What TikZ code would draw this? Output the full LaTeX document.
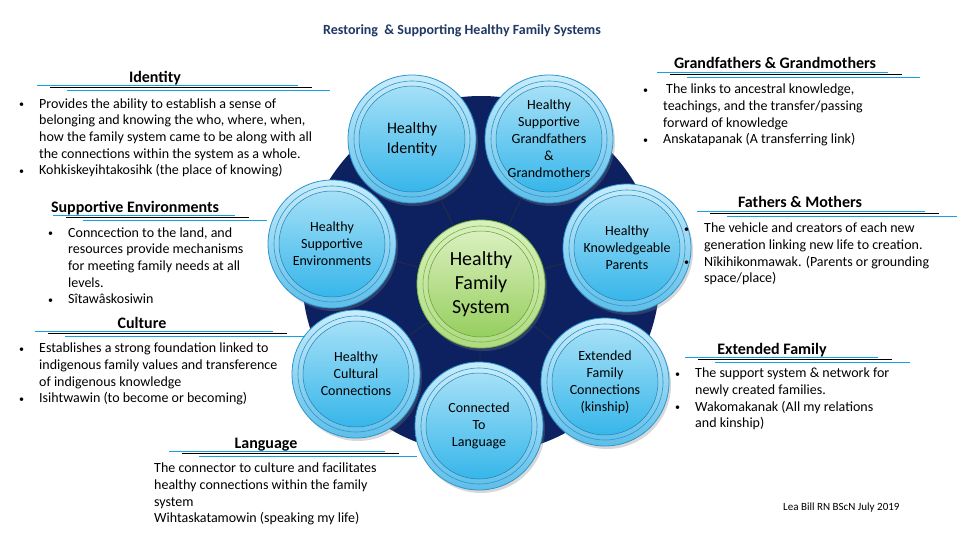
\documentclass[tikz,border=0pt]{standalone}
\usepackage{fontspec}
\setmainfont{Carlito}
\usetikzlibrary{shadows}
\definecolor{navy}{RGB}{13,33,96}
\definecolor{cline}{RGB}{20,160,225}
\definecolor{ttl}{RGB}{31,56,100}
\definecolor{satout}{RGB}{95,190,232}
\definecolor{satedge}{RGB}{40,150,210}
\definecolor{satin1}{RGB}{165,224,247}
\definecolor{satin2}{RGB}{55,182,234}
\definecolor{grout}{RGB}{175,218,130}
\definecolor{gredge}{RGB}{115,185,65}
\definecolor{grin1}{RGB}{218,240,190}
\definecolor{grin2}{RGB}{150,206,95}
\newcommand\mybul{\llap{\raisebox{0.5pt}{\fontsize{10}{10}\selectfont\textbullet}\hskip 15pt}}
\newcommand\hdline[3]{%
  \draw[cline, line width=0.9pt] ({#1},{#3}) -- ({#2},{#3});
  \draw[black, line width=0.6pt] ({#1+13},{#3+2.5}) -- ({#2+14},{#3+2.5});
  \draw[cline, line width=0.9pt] ({#1+30},{#3+5}) -- ({#2+32},{#3+5});}
\begin{document}
\begin{tikzpicture}[x=1pt,y=-1pt,
  sat/.style={circle, minimum size=128pt, inner sep=0pt, align=center,
    draw=satedge, line width=0.8pt, top color=satin1!60!white, bottom color=satout,
    font=\fontsize{14}{17}\selectfont,
    drop shadow={opacity=0.3, shadow xshift=2pt, shadow yshift=-3pt},
    path picture={
      \draw[satedge, line width=0.6pt] (path picture bounding box.center) circle (58pt);
      \shade[top color=satin1, bottom color=satin2] (path picture bounding box.center) circle (53pt);
      \draw[satedge!85!black, line width=0.5pt] (path picture bounding box.center) circle (53pt);
    }},
  ctrc/.style={circle, minimum size=128pt, inner sep=0pt, align=center,
    draw=gredge, line width=0.8pt, top color=grin1, bottom color=grout,
    font=\fontsize{20}{24}\selectfont,
    drop shadow={opacity=0.3, shadow xshift=2pt, shadow yshift=-3pt},
    path picture={
      \draw[gredge, line width=0.6pt] (path picture bounding box.center) circle (58pt);
      \shade[top color=grin1, bottom color=grin2] (path picture bounding box.center) circle (53pt);
      \draw[gredge!85!black, line width=0.5pt] (path picture bounding box.center) circle (53pt);
    }},
  spoke/.style={black!80, line width=0.5pt},
  tb/.style={anchor=north west, inner sep=0pt, align=left, font=\fontsize{14}{16.6}\selectfont},
  hd/.style={anchor=base, inner sep=0pt, font=\bfseries\fontsize{16}{19}\selectfont}
]
\useasboundingbox (0,0) rectangle (960,540);
\fill[white] (0,0) rectangle (960,540);

% title
\node[font=\bfseries\fontsize{14}{16}\selectfont, text=ttl] (title) at (462,31) {Restoring\ \ \& Supporting Healthy Family Systems};

% big disc
\node[circle, fill=navy, minimum size=358pt, inner sep=0pt] (disc) at (481,275) {};

% circles
\node[ctrc] (ctr) at (481,284) {Healthy\\Family\\System};
\node[sat, font=\fontsize{16}{19.5}\selectfont] (sid) at (412,139) {Healthy\\Identity};
\node[sat] (sgf) at (549,139) {Healthy\\Supportive\\Grandfathers\\\&\\Grandmothers};
\node[sat] (spa) at (627,248) {Healthy\\Knowledgeable\\Parents};
\node[sat] (sex) at (605,382) {Extended\\Family\\Connections\\(kinship)};
\node[sat] (sla) at (479,426) {Connected\\To\\Language};
\node[sat] (scu) at (356,374) {Healthy\\Cultural\\Connections};
\node[sat] (sse) at (332,244) {Healthy\\Supportive\\Environments};

\foreach \s in {sid,sgf,spa,sex,sla,scu,sse} \draw[spoke] (ctr) -- (\s);

% Identity
\node[hd] (hid) at (155,83) {Identity};
\hdline{37}{298}{85}
\node[tb] (tid) at (39,96.5) {\mybul\strut Provides the ability to establish a sense of\\
belonging and knowing the who, where, when,\\
how the family system came to be along with all\\
the connections within the system as a whole.\\
\mybul Kohkiskeyihtakosihk (the place of knowing)};

% Supportive Environments
\node[hd] (hse) at (135,212) {Supportive Environments};
\hdline{53}{235}{215}
\node[tb] (tse) at (68,225.5) {\mybul\strut Conncection to the land, and\\
resources provide mechanisms\\
for meeting family needs at all\\
levels.\\
\mybul Sîtawâskosiwin};

% Culture
\node[hd] (hcu) at (142,328) {Culture};
\hdline{35}{273}{331}
\node[tb] (tcu) at (39,341) {\mybul\strut Establishes a strong foundation linked to\\
indigenous family values and transference\\
of indigenous knowledge\\
\mybul Isihtwawin (to become or becoming)};

% Language
\node[hd] (hla) at (266,448) {Language};
\hdline{169}{385}{451}
\node[tb] (tla) at (154,461) {\strut The connector to culture and facilitates\\
healthy connections within the family\\
system\\
Wihtaskatamowin (speaking my life)};

% Grandfathers
\node[hd] (hgf) at (775,69) {Grandfathers \& Grandmothers};
\hdline{657}{888}{72}
\node[tb] (tgf) at (663,82) {\mybul\strut\hskip3pt The links to ancestral knowledge,\\
teachings, and the transfer/passing\\
forward of knowledge\\
\mybul Anskatapanak (A transferring link)};

% Fathers
\node[hd] (hfa) at (800,207) {Fathers \& Mothers};
\hdline{697}{925}{211}
\node[tb] (tfa) at (704,221) {\mybul\strut The vehicle and creators of each new\\
generation linking new life to creation.\\
\mybul Nîkihikonmawak. (Parents or grounding\\
space/place)};

% Extended family
\node[hd] (hex) at (772,354) {Extended Family};
\hdline{685}{878}{357}
\node[tb] (tex) at (695,366) {\mybul\strut The support system \& network for\\
newly created families.\\
\mybul Wakomakanak (All my relations\\
and kinship)};

% credit
\node[anchor=west, inner sep=0pt, font=\fontsize{11}{13}\selectfont] (credit) at (783,508) {Lea Bill RN BScN July 2019};
\end{tikzpicture}
\end{document}
